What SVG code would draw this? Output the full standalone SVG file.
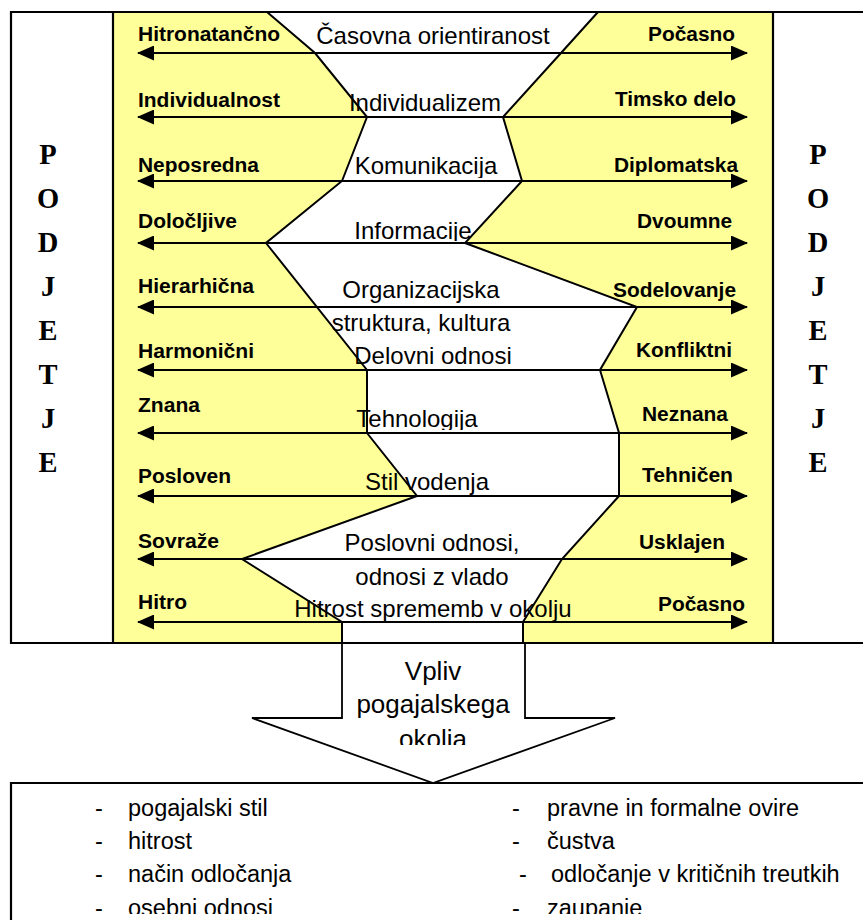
<svg xmlns="http://www.w3.org/2000/svg" width="863" height="920" viewBox="0 0 863 920">
<style>
  .lbl{font-family:"Liberation Sans",Arial,sans-serif;font-weight:bold;font-size:20px;fill:#000}
  .ctr{font-family:"Liberation Sans",Arial,sans-serif;font-size:24px;fill:#000;text-anchor:middle}
  .arrtxt{font-family:"Liberation Sans",Arial,sans-serif;font-size:26px;fill:#000;text-anchor:middle}
  .big{font-family:"Liberation Serif","Times New Roman",serif;font-weight:bold;font-size:28.5px;fill:#000;text-anchor:middle}
  .lst{font-family:"Liberation Sans",Arial,sans-serif;font-size:23.5px;fill:#000}
  .edge{stroke:#000;stroke-width:2;fill:none;stroke-linejoin:miter}
  .frame{stroke:#000;stroke-width:2.2;fill:none}
  .dbl{stroke:#000;stroke-width:2;marker-start:url(#head);marker-end:url(#head)}
</style>
<defs>
  <marker id="head" markerUnits="userSpaceOnUse" viewBox="0 0 17 15" markerWidth="17" markerHeight="15" refX="16" refY="7.5" orient="auto-start-reverse">
    <path d="M0,0 L17,7.5 L0,15 z" fill="#000"/>
  </marker>
  <clipPath id="clipKom"><rect x="300" y="140" width="250" height="38"/></clipPath>
  <clipPath id="clipInf"><rect x="300" y="200" width="250" height="41"/></clipPath>
  <clipPath id="clipTeh"><rect x="300" y="390" width="250" height="40"/></clipPath>
  <clipPath id="clipOko"><rect x="350" y="720" width="170" height="25"/></clipPath>
  <clipPath id="clipLast"><rect x="11" y="880" width="852" height="34"/></clipPath>
</defs>

<rect width="863" height="920" fill="#fff"/>

<!-- environment band: yellow with the white company profile cut out -->
<g id="band">
  <rect x="113" y="12" width="660" height="631" fill="#ffff99"/>
  <polygon fill="#fff" points="267,12 315,53 367,117 342,181 266,243 367,370 367,433 417,496 242,559 342,622 342,643 523,643 523,622 562,559 619,496 619,433 600,370 637,307 465,243 522,181 503,117 561,53 598,12"/>
  <polyline class="edge" points="267,12 315,53 367,117 342,181 266,243 367,370 367,433 417,496 242,559 342,622 342,643"/>
  <polyline class="edge" points="598,12 561,53 503,117 522,181 465,243 637,307 600,370 619,433 619,496 562,559 523,622 523,643"/>
</g>

<!-- double-headed scales -->
<g id="connectors">
  <line class="dbl" x1="138" y1="53" x2="747" y2="53"/>
  <line class="dbl" x1="138" y1="117" x2="747" y2="117"/>
  <line class="dbl" x1="138" y1="181" x2="747" y2="181"/>
  <line class="dbl" x1="138" y1="243" x2="747" y2="243"/>
  <line class="dbl" x1="138" y1="307" x2="747" y2="307"/>
  <line class="dbl" x1="138" y1="370" x2="747" y2="370"/>
  <line class="dbl" x1="138" y1="433" x2="747" y2="433"/>
  <line class="dbl" x1="138" y1="496" x2="747" y2="496"/>
  <line class="dbl" x1="138" y1="559" x2="747" y2="559"/>
  <line class="dbl" x1="138" y1="622" x2="747" y2="622"/>
</g>

<!-- outer frame and column dividers -->
<g id="frame">
  <path class="frame" d="M863,12 H11 V643 H863"/>
  <line class="frame" x1="113" y1="12" x2="113" y2="643" stroke-width="1.8"/>
  <line class="frame" x1="773" y1="12" x2="773" y2="643" stroke-width="1.8"/>
</g>

<g id="company-left">
  <text class="big" x="48" y="164">P</text>
  <text class="big" x="48" y="208">O</text>
  <text class="big" x="48" y="252">D</text>
  <text class="big" x="48" y="296">J</text>
  <text class="big" x="48" y="340">E</text>
  <text class="big" x="48" y="384">T</text>
  <text class="big" x="48" y="428">J</text>
  <text class="big" x="48" y="472">E</text>
</g>
<g id="company-right">
  <text class="big" x="818" y="164">P</text>
  <text class="big" x="818" y="208">O</text>
  <text class="big" x="818" y="252">D</text>
  <text class="big" x="818" y="296">J</text>
  <text class="big" x="818" y="340">E</text>
  <text class="big" x="818" y="384">T</text>
  <text class="big" x="818" y="428">J</text>
  <text class="big" x="818" y="472">E</text>
</g>

<g id="row-time">
  <text class="lbl" x="138" y="41" textLength="142" lengthAdjust="spacingAndGlyphs">Hitronatančno</text>
  <text class="ctr" x="433" y="44">Časovna orientiranost</text>
  <text class="lbl" x="648" y="41" textLength="87" lengthAdjust="spacingAndGlyphs">Počasno</text>
</g>
<g id="row-individualism">
  <text class="lbl" x="138" y="107" textLength="142" lengthAdjust="spacingAndGlyphs">Individualnost</text>
  <text class="ctr" x="425" y="111">Individualizem</text>
  <text class="lbl" x="615" y="106" textLength="121" lengthAdjust="spacingAndGlyphs">Timsko delo</text>
</g>
<g id="row-communication">
  <text class="lbl" x="138" y="172" textLength="121" lengthAdjust="spacingAndGlyphs">Neposredna</text>
  <text class="ctr" x="426" y="174" clip-path="url(#clipKom)">Komunikacija</text>
  <text class="lbl" x="614" y="172" textLength="124" lengthAdjust="spacingAndGlyphs">Diplomatska</text>
</g>
<g id="row-information">
  <text class="lbl" x="138" y="228" textLength="99" lengthAdjust="spacingAndGlyphs">Določljive</text>
  <text class="ctr" x="413" y="239" clip-path="url(#clipInf)">Informacije</text>
  <text class="lbl" x="637" y="228" textLength="95" lengthAdjust="spacingAndGlyphs">Dvoumne</text>
</g>
<g id="row-organisation">
  <text class="lbl" x="138" y="293" textLength="116" lengthAdjust="spacingAndGlyphs">Hierarhična</text>
  <text class="ctr" x="421" y="298">Organizacijska</text>
  <text class="ctr" x="421" y="331">struktura, kultura</text>
  <text class="lbl" x="613" y="297" textLength="123" lengthAdjust="spacingAndGlyphs">Sodelovanje</text>
</g>
<g id="row-work-relations">
  <text class="lbl" x="138" y="358" textLength="116" lengthAdjust="spacingAndGlyphs">Harmonični</text>
  <text class="ctr" x="433" y="364">Delovni odnosi</text>
  <text class="lbl" x="636" y="357" textLength="96" lengthAdjust="spacingAndGlyphs">Konfliktni</text>
</g>
<g id="row-technology">
  <text class="lbl" x="138" y="412" textLength="62" lengthAdjust="spacingAndGlyphs">Znana</text>
  <text class="ctr" x="417" y="427" clip-path="url(#clipTeh)">Tehnologija</text>
  <text class="lbl" x="642" y="421" textLength="86" lengthAdjust="spacingAndGlyphs">Neznana</text>
</g>
<g id="row-leadership">
  <text class="lbl" x="138" y="483" textLength="93" lengthAdjust="spacingAndGlyphs">Posloven</text>
  <text class="ctr" x="427" y="490">Stil vodenja</text>
  <text class="lbl" x="642" y="482" textLength="91" lengthAdjust="spacingAndGlyphs">Tehničen</text>
</g>
<g id="row-business-relations">
  <text class="lbl" x="138" y="548" textLength="81" lengthAdjust="spacingAndGlyphs">Sovraže</text>
  <text class="ctr" x="432" y="551">Poslovni odnosi,</text>
  <text class="ctr" x="432" y="585">odnosi z vlado</text>
  <text class="lbl" x="639" y="549" textLength="86" lengthAdjust="spacingAndGlyphs">Usklajen</text>
</g>
<g id="row-change">
  <text class="lbl" x="138" y="609" textLength="49" lengthAdjust="spacingAndGlyphs">Hitro</text>
  <text class="ctr" x="433" y="617">Hitrost sprememb v okolju</text>
  <text class="lbl" x="658" y="611" textLength="87" lengthAdjust="spacingAndGlyphs">Počasno</text>
</g>

<!-- block arrow: influence of the negotiating environment -->
<g id="impact-arrow">
  <polygon points="342,643 342,718 252,718 433,783 615,718 525,718 525,643" fill="#fff" stroke="#000" stroke-width="1.8" stroke-linejoin="miter"/>
  <text class="arrtxt" x="433" y="680">Vpliv</text>
  <text class="arrtxt" x="433" y="713">pogajalskega</text>
  <text class="arrtxt" x="433" y="748" clip-path="url(#clipOko)">okolja</text>
</g>

<!-- resulting negotiation factors -->
<g id="factors">
  <path class="frame" d="M863,783 H11 V920"/>
  <g class="lst">
    <text x="95" y="816">-</text><text x="128" y="816">pogajalski stil</text>
    <text x="95" y="849">-</text><text x="128" y="849">hitrost</text>
    <text x="95" y="882">-</text><text x="128" y="882">način odločanja</text>
    <g clip-path="url(#clipLast)"><text x="95" y="916">-</text><text x="128" y="916">osebni odnosi</text></g>
    <text x="512" y="816">-</text><text x="547" y="816">pravne in formalne ovire</text>
    <text x="512" y="849">-</text><text x="547" y="849">čustva</text>
    <text x="519" y="882">-</text><text x="551" y="882">odločanje v kritičnih treutkih</text>
    <g clip-path="url(#clipLast)"><text x="512" y="916">-</text><text x="547" y="916">zaupanje</text></g>
  </g>
</g>
</svg>
